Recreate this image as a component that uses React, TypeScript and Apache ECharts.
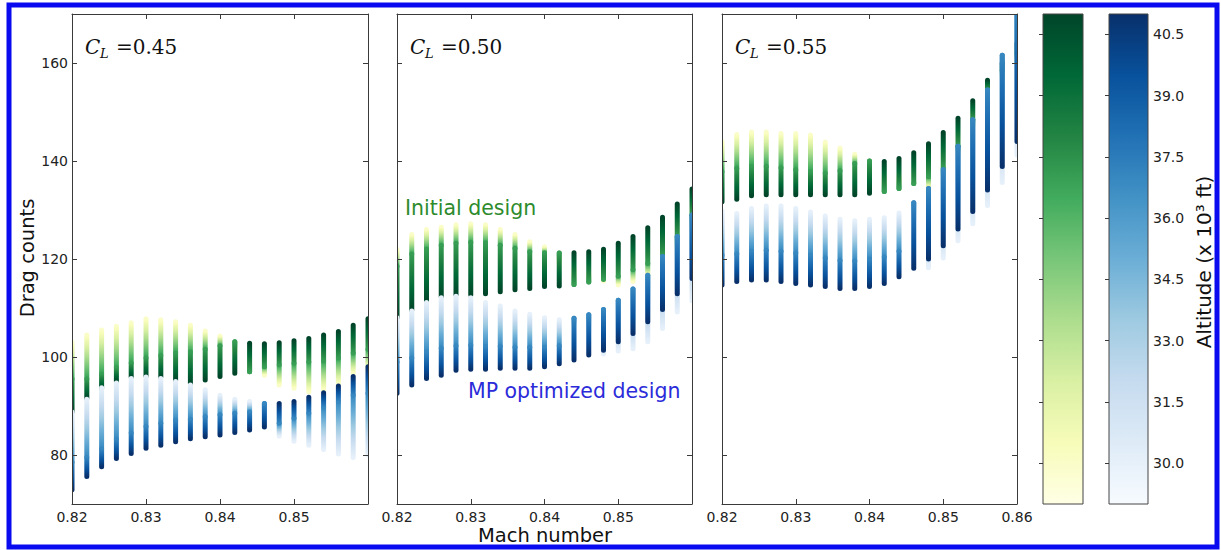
import React, { useEffect, useRef } from "react";
import * as echarts from "echarts";

// Altitude nodes (x10^3 ft) at which every Mach column is sampled
const ALTITUDES = [30, 37, 41];
const ALT_RANGE = [29, 41];
const ALT_TICKS = [30, 31.5, 33, 34.5, 36, 37.5, 39, 40.5];

const MACH = [
  0.82, 0.822, 0.824, 0.826, 0.828, 0.83, 0.832, 0.834, 0.836, 0.838, 0.84,
  0.842, 0.844, 0.846, 0.848, 0.85, 0.852, 0.854, 0.856, 0.858, 0.86,
];
const MACH_TICKS = [0.82, 0.83, 0.84, 0.85, 0.86];
const DRAG_TICKS = [80, 100, 120, 140, 160];
const CL_VALUES = ["0.45", "0.50", "0.55"];

// Drag counts at altitudes [30, 37, 41] for each Mach number
const INITIAL_CL045 = [
  [103, 95.5, 88.8], [104.5, 95.5, 91.6], [105.5, 96.5, 93.6], [106.3, 97.8, 95.1],
  [107, 98.8, 95.9], [107.8, 99.8, 96.1], [107.6, 100.3, 95.9], [107.2, 100.8, 95.2],
  [106.5, 101, 94.6], [105.3, 101.6, 95.3], [104.3, 102.3, 96.0], [101, 103.1, 96.7],
  [99.5, 97.0, 102.8], [96.3, 98.0, 102.7], [94.3, 98.4, 102.9], [93.6, 98.7, 103.3],
  [92.9, 99.0, 103.8], [93.3, 99.2, 104.5], [94.6, 99.8, 105.2], [96.7, 100.8, 106.5],
  [97.5, 101.6, 107.8],
];
const MP_CL045 = [
  [88.8, 78.5, 72.9], [91.4, 79.5, 75.6], [93.7, 81.2, 77.6], [94.7, 83.2, 79.3],
  [95.6, 84.5, 80.3], [95.9, 85.8, 81.4], [95.6, 86.5, 82.0], [95.0, 87.1, 82.7],
  [94.3, 87.3, 83.3], [93.3, 87.8, 83.7], [92.2, 88.2, 84.1], [91.4, 88.5, 84.6],
  [90.9, 88.8, 85.1], [88.5, 90.5, 85.7], [83.9, 86.5, 90.5], [82.8, 87.5, 90.9],
  [82.0, 88.5, 91.8], [81.1, 89.7, 92.7], [80.2, 90.9, 94.1], [79.5, 92.2, 96.0],
  [80.0, 92.6, 98.0],
];
const INITIAL_CL050 = [
  [122, 118.5, 108], [125, 121, 109.6], [126, 122, 111.3], [126.5, 122.8, 112.3],
  [127, 123.2, 112.7], [127.2, 123.4, 112.7], [127, 123.3, 112.9], [126, 122.8, 113.3],
  [125, 122.2, 113.7], [123.5, 121.5, 114.0], [122.5, 121.3, 114.4], [119, 121.2, 114.5],
  [118, 114.8, 121.3], [117, 115.3, 121.5], [115.5, 115.8, 122.0], [114.7, 116.5, 123.2],
  [115.4, 117.8, 124.6], [116.5, 119.1, 126.4], [118.5, 120.6, 128.5], [122, 124.6, 131.2],
  [126, 129, 134.3],
];
const MP_CL050 = [
  [108, 99, 92.6], [109.4, 99.8, 94.3], [111.1, 101, 95.6], [112.1, 101.8, 96.3],
  [112.4, 102.3, 97.3], [112.1, 102.4, 97.5], [111.1, 102.2, 97.5], [110.4, 102.2, 97.7],
  [109.4, 102, 97.7], [108.7, 102, 97.7], [108.0, 102, 98.0], [107.6, 102.3, 98.6],
  [106.5, 107.9, 99.4], [105, 108.6, 100.4], [100.6, 109.7, 101.4], [101.2, 111.6, 103.1],
  [101.7, 113.9, 104.8], [103.1, 116.7, 107.2], [105.8, 120.5, 109.7], [109.2, 124.6, 112.9],
  [111.5, 129, 116],
];
const INITIAL_CL055 = [
  [144, 137.8, 131.7], [145.4, 138.5, 132.2], [145.9, 138.9, 132.9], [145.9, 138.9, 133.1],
  [145.6, 138.6, 133.1], [145.6, 138.2, 133.1], [145.3, 137.8, 133.1], [143.9, 137.5, 133.1],
  [142.6, 138, 133.1], [141.4, 139.5, 133.1], [138, 140.0, 133.4], [137, 133.8, 139.9],
  [137, 134.4, 140.5], [136, 135.4, 141.7], [134.5, 136.8, 143.5], [137, 138.5, 145.8],
  [141.5, 143.0, 148.7], [147, 148.4, 152.3], [153.5, 154.5, 156.5], [157, 158.5, 160],
  [160, 162, 164],
];
const MP_CL055 = [
  [129.8, 120.8, 114.7], [129.3, 121, 115.4], [130.3, 121.6, 115.7], [130.8, 121.8, 115.7],
  [130.8, 121.6, 115.4], [130.3, 121.2, 115.0], [129.6, 120.8, 114.7], [128.8, 120.2, 114.4],
  [128.1, 119.7, 114.0], [127.8, 119.6, 114.0], [128.1, 120, 114.4], [128.4, 120.4, 115.0],
  [129.4, 121.6, 116.4], [128, 131.5, 118.1], [118.2, 134.4, 120.0], [120.2, 138.2, 122.7],
  [123.7, 143.0, 126.1], [127.2, 148.4, 129.7], [130.9, 154.5, 134.1], [135.6, 161.6, 138.9],
  [141.2, 172, 144],
];

const INITIAL_SETS = [INITIAL_CL045, INITIAL_CL050, INITIAL_CL055];
const MP_SETS = [MP_CL045, MP_CL050, MP_CL055];

// Sequential colour maps (YlGn for the initial design, Blues for the optimized one)
const YLGN = ["#ffffe5", "#f7fcb9", "#d9f0a3", "#addd8e", "#78c679", "#41ab5d", "#238443", "#006837", "#004529"];
const BLUES = ["#f7fbff", "#deebf7", "#c6dbef", "#9ecae1", "#6baed6", "#4292c6", "#2171b5", "#08519c", "#08306b"];

// Layout (px)
const PANEL_LEFTS = [72, 397, 722];
const PANEL_WIDTHS = [296, 295, 295];
const PLOT_TOP = 14;
const PLOT_HEIGHT = 490;
const BAR_W = 5;
const AXIS_COLOR = "#3a3a3a";
const TEXT_COLOR = "#222";
const SANS = '"DejaVu Sans", sans-serif';

function hexToRgb(h: string) {
  const n = parseInt(h.slice(1), 16);
  return [(n >> 16) & 255, (n >> 8) & 255, n & 255];
}
function cmapAt(cmap: string[], f: number) {
  const t = Math.min(1, Math.max(0, f)) * (cmap.length - 1);
  const i = Math.min(cmap.length - 2, Math.floor(t));
  const u = t - i;
  const a = hexToRgb(cmap[i]);
  const b = hexToRgb(cmap[i + 1]);
  const c = a.map((v, k) => Math.round(v + (b[k] - v) * u));
  return `rgb(${c[0]},${c[1]},${c[2]})`;
}
function altFrac(alt: number) {
  return (alt - ALT_RANGE[0]) / (ALT_RANGE[1] - ALT_RANGE[0]);
}
// Gradient stops covering the colour map between two altitudes
function segmentStops(cmap: string[], a0: number, a1: number) {
  const f0 = altFrac(a0);
  const f1 = altFrac(a1);
  const fs = [f0];
  for (let k = 0; k < cmap.length; k++) {
    const f = k / (cmap.length - 1);
    if (f > f0 + 1e-6 && f < f1 - 1e-6) fs.push(f);
  }
  fs.push(f1);
  return fs.map((f) => ({ offset: (f - f0) / (f1 - f0), color: cmapAt(cmap, f) }));
}

function columnRenderer(cmap: string[]) {
  return (params: any, api: any) => {
    const mach = api.value(0);
    const pts = ALTITUDES.map((_, k) => api.coord([mach, api.value(k + 1)]));
    const children: any[] = [];
    for (let s = 0; s < ALTITUDES.length - 1; s++) {
      const x = pts[s][0];
      const ya = pts[s][1];
      const yb0 = pts[s + 1][1];
      const yb = Math.abs(yb0 - ya) < 0.5 ? ya + 0.5 : yb0;
      const top = Math.min(ya, yb0);
      const h = Math.abs(yb0 - ya);
      children.push({
        type: "rect",
        shape: { x: x - BAR_W / 2, y: top - BAR_W / 2, width: BAR_W, height: h + BAR_W, r: BAR_W / 2 },
        style: {
          fill: new echarts.graphic.LinearGradient(x, ya, x, yb, segmentStops(cmap, ALTITUDES[s], ALTITUDES[s + 1]), true),
        },
      });
    }
    return { type: "group", children };
  };
}

function colorbarRenderer(cmap: string[]) {
  return (params: any, api: any) => {
    const a = api.coord([0, api.value(1)]);
    const b = api.coord([1, api.value(2)]);
    const stops = cmap.map((c, k) => ({ offset: k / (cmap.length - 1), color: c }));
    return {
      type: "rect",
      shape: { x: a[0], y: b[1], width: b[0] - a[0], height: a[1] - b[1] },
      style: {
        fill: new echarts.graphic.LinearGradient(0, a[1], 0, b[1], stops, true),
        stroke: "#444",
        lineWidth: 1,
      },
    };
  };
}

function buildOption() {
  const grid: any[] = [];
  const xAxis: any[] = [];
  const yAxis: any[] = [];
  const series: any[] = [];
  const graphic: any[] = [];

  PANEL_LEFTS.forEach((left, p) => {
    grid.push({ left, top: PLOT_TOP, width: PANEL_WIDTHS[p], height: PLOT_HEIGHT, containLabel: false });
    const isLast = p === PANEL_LEFTS.length - 1;
    const xBase = {
      type: "value",
      gridIndex: p,
      min: MACH_TICKS[0],
      max: MACH_TICKS[MACH_TICKS.length - 1],
      z: 5,
      splitLine: { show: false },
      axisLine: { show: true, onZero: false, lineStyle: { color: AXIS_COLOR, width: 1 } },
      axisTick: { show: true, inside: true, length: 5, customValues: MACH_TICKS, lineStyle: { color: AXIS_COLOR } },
    };
    xAxis.push({
      ...xBase,
      position: "bottom",
      axisLabel: {
        show: true,
        customValues: isLast ? MACH_TICKS : MACH_TICKS.slice(0, -1),
        formatter: (v: number) => v.toFixed(2),
        margin: 6,
        fontFamily: SANS,
        fontSize: 14,
        color: TEXT_COLOR,
      },
    });
    xAxis.push({ ...xBase, position: "top", axisLabel: { show: false } });

    const yBase = {
      type: "value",
      gridIndex: p,
      min: 70,
      max: 170,
      z: 5,
      splitLine: { show: false },
      axisLine: { show: true, onZero: false, lineStyle: { color: AXIS_COLOR, width: 1 } },
      axisTick: { show: true, inside: true, length: 5, customValues: DRAG_TICKS, lineStyle: { color: AXIS_COLOR } },
    };
    yAxis.push({
      ...yBase,
      position: "left",
      axisLabel: {
        show: p === 0,
        customValues: DRAG_TICKS,
        margin: 4,
        fontFamily: SANS,
        fontSize: 14,
        color: TEXT_COLOR,
      },
    });
    yAxis.push({ ...yBase, position: "right", axisLabel: { show: false } });

    series.push({
      type: "custom",
      name: "Initial design",
      xAxisIndex: 2 * p,
      yAxisIndex: 2 * p,
      clip: true,
      z: 2,
      renderItem: columnRenderer(YLGN),
      encode: { x: 0, y: [1, 2, 3] },
      data: MACH.map((m, i) => [m, ...INITIAL_SETS[p][i]]),
    });
    series.push({
      type: "custom",
      name: "MP optimized design",
      xAxisIndex: 2 * p,
      yAxisIndex: 2 * p,
      clip: true,
      z: 3,
      renderItem: columnRenderer(BLUES),
      encode: { x: 0, y: [1, 2, 3] },
      data: MACH.map((m, i) => [m, ...MP_SETS[p][i]]),
    });

    // C_L annotation
    graphic.push({
      type: "group",
      x: left + 13,
      y: 47,
      silent: true,
      children: [
        { type: "text", x: 0, y: 0, style: { text: "C", fontFamily: '"DejaVu Serif", serif', fontStyle: "italic", fontSize: 20, fill: "#111", verticalAlign: "middle" } },
        { type: "text", x: 15, y: 6, style: { text: "L", fontFamily: '"DejaVu Serif", serif', fontStyle: "italic", fontSize: 13, fill: "#111", verticalAlign: "middle" } },
        { type: "text", x: 31, y: 0, style: { text: "=" + CL_VALUES[p], fontFamily: '"DejaVu Serif", serif', fontSize: 20, fill: "#111", verticalAlign: "middle" } },
      ],
    });
  });

  // Colour bars
  const cbars = [
    { left: 1043, width: 40, cmap: YLGN, labels: false },
    { left: 1109, width: 39, cmap: BLUES, labels: true },
  ];
  const axisOffset = 2 * PANEL_LEFTS.length;
  cbars.forEach((cb, k) => {
    const gi = PANEL_LEFTS.length + k;
    const ai = axisOffset + k;
    grid.push({ left: cb.left, top: PLOT_TOP, width: cb.width, height: PLOT_HEIGHT });
    xAxis.push({ type: "value", gridIndex: gi, min: 0, max: 1, show: false });
    yAxis.push({
      type: "value",
      gridIndex: gi,
      min: ALT_RANGE[0],
      max: ALT_RANGE[1],
      position: "right",
      z: 5,
      splitLine: { show: false },
      axisLine: { show: false },
      axisTick: { show: true, inside: true, length: 4, customValues: ALT_TICKS, lineStyle: { color: AXIS_COLOR } },
      axisLabel: {
        show: cb.labels,
        customValues: ALT_TICKS,
        formatter: (v: number) => v.toFixed(1),
        margin: 5,
        fontFamily: SANS,
        fontSize: 14,
        color: TEXT_COLOR,
      },
    });
    series.push({
      type: "custom",
      xAxisIndex: ai,
      yAxisIndex: ai,
      z: 1,
      silent: true,
      renderItem: colorbarRenderer(cb.cmap),
      encode: { x: 0, y: [1, 2] },
      data: [[0, ALT_RANGE[0], ALT_RANGE[1]]],
    });
  });

  // Titles and annotations
  graphic.push(
    {
      type: "text",
      x: 27,
      y: 258,
      rotation: Math.PI / 2,
      silent: true,
      style: { text: "Drag counts", fontFamily: SANS, fontSize: 19.5, fill: "#111", align: "center", verticalAlign: "middle" },
    },
    {
      type: "text",
      x: 545,
      y: 535,
      silent: true,
      style: { text: "Mach number", fontFamily: SANS, fontSize: 19.5, fill: "#111", align: "center", verticalAlign: "middle" },
    },
    {
      type: "text",
      x: 1204,
      y: 262,
      rotation: Math.PI / 2,
      silent: true,
      style: { text: "Altitude (x 10\u00b3 ft)", fontFamily: SANS, fontSize: 20, fill: "#111", align: "center", verticalAlign: "middle" },
    },
    {
      type: "text",
      x: 405,
      y: 208,
      silent: true,
      style: { text: "Initial design", fontFamily: SANS, fontSize: 20.5, fill: "#2d8b2d", align: "left", verticalAlign: "middle" },
    },
    {
      type: "text",
      x: 468,
      y: 391,
      silent: true,
      style: { text: "MP optimized design", fontFamily: SANS, fontSize: 20.5, fill: "#2b2bd9", align: "left", verticalAlign: "middle" },
    },
    {
      type: "rect",
      silent: true,
      z: 10,
      shape: { x: 9, y: 5, width: 1208, height: 542 },
      style: { fill: "none", stroke: "#0a0af0", lineWidth: 5 },
    }
  );

  return {
    animation: false,
    backgroundColor: "#ffffff",
    grid,
    xAxis,
    yAxis,
    series,
    graphic,
  };
}

export default function App() {
  const ref = useRef<HTMLDivElement>(null);
  useEffect(() => {
    if (!ref.current) return;
    const chart = echarts.init(ref.current, null, { renderer: "svg" });
    chart.setOption(buildOption() as any);
    return () => chart.dispose();
  }, []);
  return (
    <div
      ref={ref}
      style={{ position: "absolute", left: 0, top: 0, width: 1221, height: 550 }}
    />
  );
}
